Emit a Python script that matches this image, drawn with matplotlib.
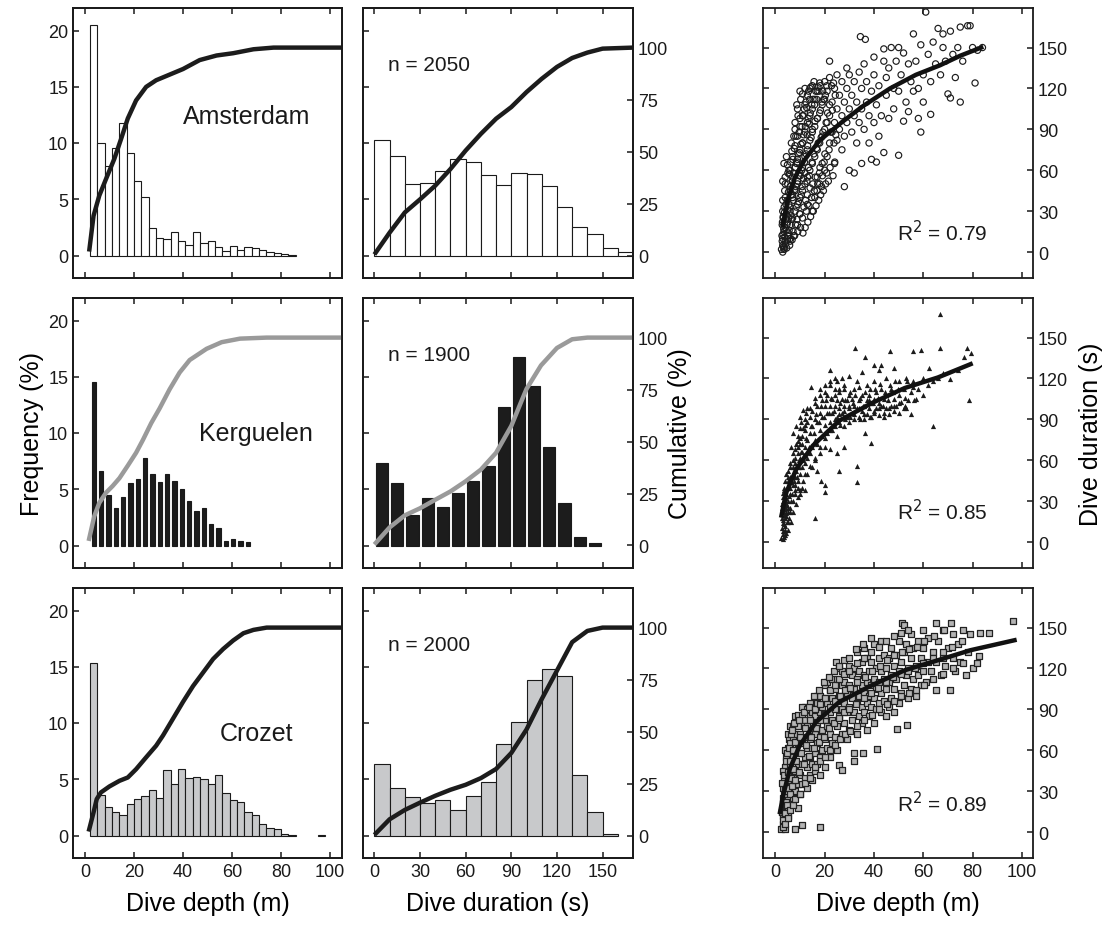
#!/usr/bin/env python3
"""Dive depth / duration distributions and depth-duration relations for three sites."""

import matplotlib.pyplot as plt
import numpy as np

plt.rcParams.update(
    {
        "font.family": ["Liberation Sans", "DejaVu Sans"],
        "font.size": 13,
        "axes.linewidth": 1.3,
        "axes.edgecolor": "#1a1a1a",
        "xtick.direction": "in",
        "ytick.direction": "in",
        "xtick.major.size": 4,
        "ytick.major.size": 4,
        "xtick.major.width": 1.1,
        "ytick.major.width": 1.1,
        "xtick.labelsize": 13,
        "ytick.labelsize": 13,
        "text.color": "#1a1a1a",
        "xtick.color": "#1a1a1a",
        "ytick.color": "#1a1a1a",
    }
)

SITES = ["Amsterdam", "Kerguelen", "Crozet"]
N_DIVES = [2050, 1900, 2000]
R2 = [0.79, 0.85, 0.89]

# depth histograms: 3 m bins starting at 2 m, frequency in %
DEPTH_BIN_START, DEPTH_BIN_WIDTH = 2, 3
depth_freq_ams = [20.45, 9.97, 8.0, 9.6, 11.8, 9.08, 6.64, 5.18, 2.47, 1.58, 1.46, 2.05, 1.25, 0.92,
                  2.05, 1.13, 1.25, 0.77, 0.39, 0.86, 0.5, 0.77, 0.68, 0.45, 0.27, 0.2, 0.15, 0.06]
depth_freq_ker = [14.5, 6.6, 4.47, 3.37, 4.3, 5.6, 5.95, 7.8, 6.4, 5.65, 6.4, 5.74, 5.0, 4.0,
                  3.1, 3.3, 1.9, 1.54, 0.36, 0.62, 0.38, 0.27]
depth_freq_cro = [15.3, 3.6, 2.5, 2.1, 1.85, 2.8, 3.24, 3.54, 4.04, 3.3, 5.8, 4.55, 5.9, 5.14,
                  5.2, 5.0, 4.55, 5.38, 3.74, 3.12, 3.0, 2.05, 1.84, 0.98, 0.65, 0.6, 0.1, 0.06,
                  0, 0, 0, 0.06]

# duration histograms: 10 s bins starting at 0 s, frequency in %
DUR_BIN_WIDTH = 10
dur_freq_ams = [10.3, 8.84, 6.34, 6.43, 7.47, 8.54, 8.27, 7.17, 6.28, 7.32, 7.23, 6.22, 4.29,
                2.53, 1.93, 0.63, 0.27]
dur_freq_ker = [7.3, 5.6, 2.7, 4.2, 3.4, 4.7, 5.77, 7.1, 12.3, 16.8, 14.2, 8.8, 3.8, 0.77, 0.18]
dur_freq_cro = [6.33, 4.25, 3.42, 2.9, 3.12, 2.3, 3.48, 4.8, 8.1, 10.1, 13.8, 14.8, 14.15,
                5.38, 2.05, 0.12]

# cumulative distributions (%)
cum_depth_x_ams = [1.6, 3.4, 5.75, 8.5, 11.9, 14.7, 17.4, 20.8, 24.9, 29, 34.5, 40, 46.8, 53.7,
                   60.5, 68.8, 77, 105]
cum_depth_ams = [1.9, 19.1, 28.8, 36.8, 46.5, 56.2, 65.9, 74.6, 81.1, 84.3, 87.0, 89.7, 94.0,
                 96.2, 97.3, 99.2, 100, 100]
cum_depth_x_ker = [1.4, 3.7, 5.75, 8.5, 11.2, 14, 17.4, 20.8, 23.6, 27, 30.4, 34.5, 38.6, 42.7,
                   49.6, 55.8, 63.3, 74.2, 105]
cum_depth_ker = [2.2, 14.1, 20.5, 25.4, 28.6, 32.4, 38.4, 44.6, 50.8, 58.9, 65.9, 75.1, 83.2,
                 89.2, 94.6, 97.8, 99.5, 100, 100]
cum_depth_x_cro = [1.4, 3.4, 4.7, 6.4, 9.9, 14, 17.4, 20.8, 24.9, 29, 31.8, 35.9, 40, 44.1, 48.2,
                   52.3, 56.4, 60.5, 64.7, 68.8, 74.2, 105]
cum_depth_cro = [1.9, 11.1, 17.5, 20.7, 23.6, 26.3, 27.9, 31.9, 37.6, 43.2, 48.1, 56.2, 64.3,
                 71.9, 78.4, 84.9, 89.7, 93.8, 97.3, 98.9, 100, 100]

cum_dur_x = [0, 10, 20, 30, 40, 50, 60, 70, 80, 90, 100, 110, 120, 130, 140, 150, 170]
cum_dur_ams = [0.5, 11, 20.7, 27, 33.6, 41.6, 50.5, 58.5, 65.8, 71.4, 78.6, 85, 90.7, 95, 97.6,
               99.5, 100]
cum_dur_x_ker = [0, 10, 20, 30, 40, 50, 60, 70, 80, 90, 96.3, 100, 109.5, 120, 130, 140, 170]
cum_dur_ker = [0.5, 8.7, 14.5, 17.9, 22, 26, 30.9, 36.5, 44.6, 57.5, 68.8, 75.3, 86.6, 95,
               99.2, 100, 100]
cum_dur_cro = [0.3, 7.8, 12.3, 15.8, 19.1, 22, 24.4, 27.6, 32, 39.7, 51, 65.6, 79.3, 93, 98.4,
               100, 100]

# depth (m) vs duration (s), individual dives
sc_depth_ams = [2.5, 3, 3, 3.5, 2.8, 3.2, 4, 4, 4.5, 5, 5, 5.5, 3, 4, 2.7, 3.5, 6, 6, 6, 5, 4, 3.5,
                3, 4.5, 6,
                7, 7, 7, 7, 8, 8, 8, 8, 9, 9, 9, 9, 10, 10, 10, 10, 11, 11, 11, 11, 12, 12, 12, 12,
                6.5, 8, 9, 10, 7.5, 6, 9, 10,
                13, 13, 13, 13, 14, 14, 14, 14, 15, 15, 15, 15, 16, 16, 16, 16, 17, 17, 17, 18, 18,
                18, 18, 19, 19, 20, 20, 20, 20, 13, 15, 17, 19,
                21, 21, 21, 22, 22, 22, 22, 23, 23, 24, 24, 24, 25, 25, 25, 26, 26, 27, 27, 27, 28,
                28, 28, 29, 29, 29, 30, 30, 30,
                31, 31, 32, 32, 32, 33, 33, 34, 34, 35, 35, 35, 36, 36, 37, 37, 38, 38, 39, 39, 40,
                40, 40, 41, 41, 42, 42, 43, 44, 44, 44, 45, 45,
                46, 46, 47, 48, 48, 49, 50, 50, 50, 51, 52, 52, 53, 54, 54, 55, 56, 56, 57, 58, 58,
                59, 59, 60, 60,
                61, 62, 63, 63, 64, 65, 66, 67, 68, 68, 69, 70, 71, 71, 72, 73, 74, 75, 75, 76, 78,
                79, 80, 81, 82, 84, 34.5, 36.5]
sc_dur_ams = [2, 5, 10, 15, 20, 25, 8, 18, 28, 12, 22, 35, 30, 40, 12, 3, 20, 30, 45, 50, 55, 65,
              52, 70, 60,
              25, 40, 55, 70, 30, 45, 62, 78, 35, 50, 68, 85, 40, 58, 75, 92, 45, 62, 80, 100, 50,
              70, 88, 108, 80, 95, 105, 118, 12, 8, 20, 28,
              55, 75, 95, 115, 60, 82, 100, 120, 65, 88, 105, 122, 40, 70, 92, 112, 75, 98, 118,
              50, 80, 102, 124, 85, 108, 60, 90, 112, 125, 35, 30, 55, 65,
              70, 95, 118, 100, 80, 128, 140, 88, 110, 65, 95, 120, 105, 82, 130, 90, 115, 75,
              100, 125, 48, 85, 110, 95, 120, 135, 60, 105, 130,
              88, 115, 58, 100, 125, 80, 110, 95, 132, 65, 105, 120, 90, 138, 110, 125, 100, 80,
              68, 118, 95, 130, 143, 66, 108, 85, 122, 100, 73, 140, 149, 115, 128,
              98, 135, 150, 120, 105, 140, 71, 118, 150, 130, 96, 146, 110, 103, 138, 125, 160,
              118, 140, 98, 120, 88, 152, 130, 110,
              176, 145, 101, 125, 154, 138, 164, 130, 150, 160, 140, 116, 113, 162, 145, 128, 150,
              165, 110, 140, 166, 166, 150, 124, 148, 150, 158, 156]

# shallow, densely packed dives (depth, duration)
core_ams = [
    (3.0, 0), (3.3, 4), (2.8, 8), (3.1, 13), (3.4, 17), (2.9, 22), (3.2, 26), (3.6, 33), (3.0, 38),
    (3.8, 45), (3.6, 2), (4.2, 6), (3.9, 11), (4.4, 16), (4.1, 24), (3.7, 29), (4.3, 35), (4.0, 50),
    (4.6, 3), (4.9, 9), (5.2, 14), (4.7, 20), (5.4, 25), (5.0, 31), (4.8, 38), (5.3, 44), (5.1, 58),
    (4.9, 64), (5.8, 5), (6.1, 10), (5.6, 16), (6.3, 27), (5.9, 33), (6.4, 42), (6.0, 48),
    (5.7, 57), (6.2, 66), (5.5, 60), (6.8, 9), (7.2, 15), (6.6, 24), (7.4, 38), (7.0, 42),
    (6.9, 52), (7.3, 58), (7.1, 68), (6.7, 74), (7.5, 85), (7.8, 12), (8.2, 20), (8.5, 33),
    (7.9, 46), (8.4, 48), (8.1, 62), (8.6, 65), (7.7, 76), (8.3, 85), (8.0, 90), (9.1, 15),
    (8.8, 24), (9.4, 37), (9.0, 52), (9.6, 56), (8.9, 66), (9.3, 72), (9.7, 88), (9.2, 100),
    (8.7, 108), (10.2, 18), (9.9, 28), (10.5, 42), (10.1, 56), (10.7, 60), (9.8, 73), (10.4, 79),
    (10.8, 92), (10.0, 98), (10.3, 112), (11.2, 14), (11.0, 25), (11.6, 33), (10.9, 48),
    (11.4, 54), (11.8, 66), (11.1, 80), (11.5, 86), (11.3, 100), (11.7, 105), (11.0, 116),
    (12.1, 18), (12.6, 30), (12.3, 38), (12.8, 52), (12.0, 58), (12.5, 72), (12.9, 86), (12.2, 92),
    (12.7, 106), (12.4, 110), (12.0, 120), (13.2, 22), (13.6, 34), (13.0, 42), (13.8, 56),
    (13.4, 62), (13.1, 78), (13.7, 94), (13.3, 98), (13.9, 112), (13.5, 118), (14.3, 26),
    (14.7, 40), (14.1, 47), (14.9, 66), (14.5, 84), (14.2, 102), (14.8, 108), (14.4, 121),
    (15.4, 30), (15.8, 45), (15.2, 50), (15.6, 72), (15.0, 90), (15.9, 108), (15.3, 112),
    (15.7, 125), (16.5, 34), (16.9, 45), (16.2, 55), (16.7, 76), (16.1, 96), (16.8, 112),
    (16.4, 118), (17.6, 38), (17.2, 50), (17.9, 58), (17.4, 80), (17.1, 98), (17.7, 118),
    (17.3, 121), (18.4, 42), (18.8, 48), (18.1, 62), (18.6, 84), (18.3, 104), (18.9, 110),
    (18.2, 122), (19.5, 45), (19.1, 56), (19.8, 66), (19.3, 88), (19.6, 112), (19.2, 118),
    (20.4, 50), (20.8, 58), (20.1, 72), (20.6, 95), (20.3, 115), (20.9, 122), (21.5, 52),
    (22.2, 62), (21.8, 75), (22.5, 88), (21.2, 102), (22.0, 108), (22.8, 122), (23.4, 56),
    (24.1, 66), (23.8, 80), (24.5, 86), (23.1, 104), (24.3, 115), (23.6, 124),
]

sc_depth_ker = [2.5, 3, 3, 3.5, 2.8, 3.2, 4, 4, 4, 4, 4.5, 4.5, 3, 5, 5, 5, 5, 3.5, 4, 2.7, 5.5,
                6, 6, 6, 6, 5, 4.5,
                7, 7, 7, 7, 8, 8, 8, 8, 7.2, 9, 9, 9, 9.2, 10, 10, 10, 10, 11, 11, 11, 11.2, 12, 12,
                12, 12, 8, 9, 10, 11, 12, 6.5, 8.5, 10,
                13, 13, 13, 13, 14, 14, 14, 14.5, 15, 15, 15, 15.9, 16, 16, 16, 16, 17, 17, 17, 18,
                18, 18, 18, 18.5, 19, 19, 19, 20, 20, 20, 20, 20.3, 20.3, 13, 15, 17,
                21, 21, 21, 22, 22, 22, 22, 23, 23, 23, 24, 24, 24, 25, 25, 25, 25, 26, 26, 26, 26,
                27, 27, 27, 28, 28, 28, 29, 29, 30, 30, 30, 30, 22, 25, 28,
                31, 31, 32, 32, 32, 32.5, 33, 33, 33, 33, 34, 34, 35, 35, 35, 36, 36, 36.5, 36.5,
                37, 37, 37, 38, 38, 39, 39, 39, 40, 40, 40, 41, 41, 42, 42, 42, 43, 43, 44, 44, 45,
                45, 45, 46.5, 40, 43,
                46, 47, 47, 48, 48, 48, 49, 50, 50, 50, 51, 52, 52.5, 52, 53, 54, 55, 55, 55.9, 56,
                57, 58, 59, 60, 60,
                62, 62.5, 63.9, 64, 65.9, 66.8, 66.8, 68, 71, 74, 76.5, 77.9, 78.5, 79.2]
sc_dur_ker = [3, 8, 14, 20, 25, 30, 5, 12, 18, 24, 28, 35, 36, 15, 22, 30, 40, 40, 45, 18, 45,
              25, 35, 48, 55, 52, 50,
              30, 42, 50, 60, 38, 48, 58, 68, 80, 45, 55, 65, 74, 50, 62, 72, 84, 55, 66, 78, 97,
              58, 70, 82, 90, 35, 40, 35, 40, 38, 70, 85, 92,
              62, 75, 88, 98, 65, 80, 92, 114, 70, 85, 96, 18, 60, 75, 90, 102, 72, 88, 100, 65,
              82, 95, 108, 45, 78, 92, 104, 70, 86, 100, 110, 37, 42, 50, 55, 52,
              80, 95, 108, 88, 100, 126, 115, 82, 95, 105, 90, 100, 112, 78, 92, 104, 118, 52, 88,
              98, 110, 95, 105, 120, 85, 100, 112, 92, 104, 88, 98, 108, 122, 68, 65, 70,
              95, 105, 90, 100, 112, 142, 44, 56, 98, 118, 92, 104, 96, 108, 125, 90, 100, 80, 136,
              94, 104, 115, 98, 108, 73, 92, 102, 95, 105, 118, 98, 110, 93, 102, 126, 100, 112,
              95, 105, 98, 108, 120, 140, 130, 130,
              94, 100, 112, 96, 105, 128, 100, 95, 108, 118, 103, 98, 100, 112, 120, 104, 94, 110,
              140, 118, 105, 112, 141, 108, 120,
              115, 128, 85, 118, 120, 142, 167, 124, 119.5, 126, 136, 142, 104, 139]

core_ker = [
    (3.0, 2), (3.3, 6), (2.8, 10), (3.1, 16), (3.4, 22), (2.9, 28), (3.2, 33), (3.6, 4), (3.9, 9),
    (3.7, 13), (4.2, 19), (3.8, 26), (4.1, 31), (3.5, 38), (4.3, 7), (4.6, 15), (4.4, 21),
    (4.8, 27), (4.5, 32), (4.7, 40), (5.2, 9), (5.4, 18), (5.0, 25), (5.6, 34), (5.3, 45),
    (5.1, 48), (6.2, 15), (5.8, 22), (6.4, 30), (6.0, 40), (6.3, 44), (5.9, 58), (7.1, 22),
    (6.8, 35), (7.4, 45), (7.0, 55), (7.3, 65), (8.2, 28), (7.8, 42), (8.4, 52), (8.0, 62),
    (8.3, 72), (9.1, 33), (8.8, 48), (9.4, 60), (9.0, 70), (9.3, 78), (10.2, 38), (9.8, 55),
    (10.4, 66), (10.0, 76), (10.3, 88), (11.1, 45), (11.4, 60), (10.8, 72), (11.2, 84), (12.2, 50),
    (11.8, 64), (12.4, 76), (12.0, 86), (12.3, 95), (14.1, 56), (13.7, 70), (14.4, 85), (14.0, 98),
    (16.2, 62), (15.8, 80), (16.4, 94), (16.0, 106), (18.1, 70), (17.7, 88), (18.4, 100),
    (18.0, 112), (20.2, 76), (19.8, 92), (20.4, 104), (20.0, 115), (22.1, 82), (21.7, 95),
    (22.4, 106), (22.0, 118), (24.2, 85), (23.8, 96), (24.4, 108), (24.0, 120), (26.1, 86),
    (25.7, 94), (26.4, 102), (26.0, 112), (28.2, 90), (27.8, 96), (28.4, 104), (28.0, 115),
    (30.2, 92), (29.8, 100), (30.4, 110), (32.1, 94), (31.7, 102), (32.4, 108), (34.2, 90),
    (33.8, 98), (34.4, 106), (34.0, 114), (36.1, 94), (35.7, 100), (36.4, 110), (38.2, 92),
    (37.8, 104), (38.4, 112), (40.1, 96), (39.7, 102), (40.4, 112), (42.2, 98), (41.8, 106),
    (42.4, 116), (44.1, 92), (43.7, 100), (44.4, 110), (46.2, 98), (45.8, 104), (46.4, 115),
    (48.1, 100), (47.7, 110), (48.4, 118), (50.2, 102), (49.8, 112), (53.1, 98), (52.7, 106),
    (53.4, 118), (56.2, 104), (55.8, 114),
]

sc_depth_cro = [2.5, 3, 3, 3, 3, 3, 3.5, 3.5, 3.5, 3.5, 4, 4, 4, 4, 4, 4.5, 4.5, 5, 5, 5, 5, 5.5,
                5.5, 5.5, 6, 6, 6, 6, 2.8, 3.2, 4, 5,
                7, 7, 7, 7, 7, 7.9, 8, 8, 8, 8, 8, 9, 9, 9, 9, 9.1, 10, 10, 10, 10, 10.7, 11, 11, 11,
                11, 11, 12, 12, 12, 12, 12, 9, 11,
                13, 13, 13, 13, 13, 14, 14, 14, 14, 14, 15, 15, 15, 15, 15, 16, 16, 16, 16, 16.9, 17,
                17, 17, 17, 18, 18, 18, 18, 18, 18, 19, 19, 19, 19.9, 20, 20, 20, 20, 20,
                21, 21, 21, 21, 22, 22, 22, 22, 23, 23, 23, 23, 24, 24, 24, 24.5, 25, 25, 25, 25,
                25.9, 26, 26, 26, 27.2, 27, 27, 27, 27, 28, 28, 28, 29, 29, 29, 29, 30, 30, 30, 30,
                31, 31, 31, 31.9, 31.9, 32, 32, 32, 33, 33, 33, 33, 34, 34, 34, 35, 35.6, 35, 35, 35,
                36, 36, 36, 36, 37, 37, 37, 37, 38, 38, 38, 39, 39, 39, 40, 40, 40, 40, 41.2, 41, 41,
                41, 42, 42, 42, 43, 43, 43, 43, 44, 44, 44, 45, 45, 45,
                46, 46, 46, 47, 47, 47, 48, 48, 48, 49.2, 49, 49, 50, 50, 50, 51, 51, 51.2, 52, 52,
                52, 53.2, 53, 53, 54, 54, 55, 55, 55, 56, 56, 57, 57, 58, 58, 59, 59, 60, 60, 60,
                61, 62, 62, 63, 64, 65, 65, 65.2, 66, 67, 68, 68, 69, 70, 70.8, 71.2, 72, 72, 73, 74,
                75, 76, 77.2, 78, 79, 80, 81.6, 82.4, 83, 86.5, 96.5]
sc_dur_cro = [2, 6, 12, 18, 25, 32, 8, 15, 22, 40, 2.4, 10, 28, 35, 48, 18, 55, 12, 25, 38, 62,
              30, 45, 68, 20, 50, 78, 65, 15, 45, 60, 72,
              25, 40, 55, 70, 78, 2.4, 30, 45, 60, 72, 85, 18, 35, 50, 65, 86, 28, 42, 58, 72, 86,
              4.9, 35, 50, 65, 80, 40, 55, 70, 82, 92, 78, 92,
              32, 48, 62, 78, 90, 42, 55, 68, 85, 95, 38, 50, 62, 75, 88, 45, 58, 72, 85, 99.8, 50,
              65, 80, 95, 3.7, 42, 55, 70, 88, 100, 60, 75, 92, 86.9, 48, 68, 82, 98, 108,
              62, 78, 95, 110, 55, 72, 88, 104, 65, 82, 98, 112, 70, 90, 105, 124.8, 60, 78, 96,
              112, 120, 49, 85, 100, 45.3, 72, 90, 108, 118, 80, 95, 110, 68, 88, 102, 116, 75, 92,
              108, 122,
              82, 98, 115, 51.9, 57.7, 88, 105, 120, 72, 95, 112, 132, 85, 100, 118, 80, 57.7, 92,
              108, 125, 88, 102, 115, 135, 75, 95, 110, 128, 85, 100, 118, 92, 108, 125, 80, 98,
              112, 138, 61, 90, 105, 120, 95, 110, 128, 88, 102, 118, 140, 96, 112, 130, 85, 105,
              120,
              92, 110, 128, 98, 115, 135, 88, 105, 122, 75.8, 112, 130, 95, 118, 140, 102, 125, 153,
              152, 108, 132, 78.3, 115, 138, 98, 120, 105, 128, 145, 112, 135, 100, 122, 115, 140,
              108, 128, 118, 135, 148,
              110, 125, 142, 118, 132, 104, 125, 153, 140, 115, 128, 148, 122, 135, 104, 153, 128,
              145, 118, 138, 125, 148, 115.5, 132, 145, 120, 124, 129, 146, 146, 155]

core_cro = [
    (3.0, 4), (3.3, 9), (2.8, 15), (3.1, 21), (3.4, 28), (2.9, 36), (4.1, 6), (3.8, 14), (4.3, 22),
    (4.0, 30), (3.7, 42), (4.2, 52), (5.1, 10), (4.8, 20), (5.3, 32), (5.0, 44), (4.7, 58),
    (6.1, 16), (5.8, 28), (6.3, 40), (6.0, 52), (5.7, 62), (6.2, 72), (7.1, 20), (6.8, 34),
    (7.3, 46), (7.0, 60), (6.7, 75), (8.1, 24), (7.8, 38), (8.3, 52), (8.0, 66), (7.7, 80),
    (10.1, 28), (9.8, 44), (10.3, 58), (10.0, 70), (9.7, 82), (12.1, 36), (11.8, 50), (12.3, 64),
    (12.0, 76), (11.7, 88), (14.1, 40), (13.8, 56), (14.3, 70), (14.0, 82), (13.7, 92), (16.1, 48),
    (15.8, 62), (16.3, 76), (16.0, 90), (15.7, 100), (18.1, 52), (17.8, 66), (18.3, 82), (18.0, 94),
    (17.7, 104), (20.1, 55), (19.8, 70), (20.3, 86), (20.0, 98), (19.7, 110), (22.1, 60),
    (21.8, 76), (22.3, 92), (22.0, 104), (21.7, 114), (24.1, 64), (23.8, 80), (24.3, 96),
    (24.0, 108), (23.7, 118), (26.1, 68), (25.8, 84), (26.3, 100), (26.0, 112), (25.7, 122),
    (28.1, 72), (27.8, 88), (28.3, 104), (28.0, 116), (27.7, 126), (30.1, 74), (29.8, 90),
    (30.3, 106), (30.0, 118), (29.7, 128), (33.1, 78), (32.8, 94), (33.3, 110), (33.0, 124),
    (32.7, 134), (36.1, 82), (35.8, 98), (36.3, 114), (36.0, 128), (35.7, 138), (39.1, 86),
    (38.8, 102), (39.3, 118), (39.0, 132), (38.7, 142), (42.1, 90), (41.8, 106), (42.3, 122),
    (42.0, 136), (45.1, 94), (44.8, 110), (45.3, 126), (45.0, 140), (48.1, 96), (47.8, 114),
    (48.3, 130), (48.0, 144), (51.1, 100), (50.8, 116), (51.3, 132), (51.0, 146), (54.1, 102),
    (53.8, 118), (54.3, 134), (54.0, 148), (57.1, 104), (56.8, 120), (57.3, 136), (60.1, 108),
    (59.8, 124), (60.3, 140), (64.1, 112), (63.8, 128), (64.3, 144), (68.1, 116), (67.8, 132),
    (68.3, 148), (72.1, 120), (71.8, 136), (76.1, 124), (75.8, 140),
]

# fitted depth-duration curves
fit_depth_ams = [3, 5, 8, 12, 18, 27.5, 35.5, 46.5, 57, 66.8, 75, 83.5]
fit_dur_ams = [20, 38, 55, 68, 82, 96, 107, 120, 130, 137, 144, 150]
fit_depth_ker = [2.5, 4.5, 8.5, 15.2, 25.9, 39.2, 52.5, 65.9, 79.2]
fit_dur_ker = [19.5, 36.6, 53.6, 70.7, 89, 102, 113, 120.7, 130.5]
fit_depth_cro = [1.9, 3.2, 5.9, 9.9, 16.5, 25.9, 39.2, 52.5, 65.9, 79.2, 97]
fit_dur_cro = [14.7, 27, 46.5, 63.6, 80.7, 95.4, 107.7, 118.7, 126, 133.4, 140.7]

depth_freqs = [depth_freq_ams, depth_freq_ker, depth_freq_cro]
dur_freqs = [dur_freq_ams, dur_freq_ker, dur_freq_cro]
cum_depths = [(cum_depth_x_ams, cum_depth_ams), (cum_depth_x_ker, cum_depth_ker),
              (cum_depth_x_cro, cum_depth_cro)]
cum_durs = [(cum_dur_x, cum_dur_ams), (cum_dur_x_ker, cum_dur_ker), (cum_dur_x, cum_dur_cro)]
scatters = [(sc_depth_ams, sc_dur_ams, core_ams), (sc_depth_ker, sc_dur_ker, core_ker),
            (sc_depth_cro, sc_dur_cro, core_cro)]
fits = [(fit_depth_ams, fit_dur_ams), (fit_depth_ker, fit_dur_ker), (fit_depth_cro, fit_dur_cro)]

# per-site styling
BAR_FACE = ["white", "#1c1c1c", "#c8c9cb"]
BAR_FRAC = [1.0, 0.62, 1.0]       # bar width relative to bin width (depth)
DUR_FRAC = [1.0, 0.8, 1.0]
CUM_COLOR = ["#1c1c1c", "#9a9a9a", "#1c1c1c"]
SITE_POS = [(40, 12.4), (46.5, 10.0), (55, 9.1)]
R2_POS = [15, 23, 21.5]

FREQ_LIM = (-2, 22)
CUM_FULL = 18.48                  # frequency-axis level that corresponds to 100 %
CUM_LIM = (FREQ_LIM[0] * 100 / CUM_FULL, FREQ_LIM[1] * 100 / CUM_FULL)

W, H = 1111, 928
fig = plt.figure(figsize=(W / 100, H / 100), dpi=100)

ROWS = [(9, 279), (299, 569), (589, 859)]
COLS = [(73, 342), (363, 633), (763, 1033)]


def add_ax(col, row):
    x0, x1 = COLS[col]
    y0, y1 = ROWS[row]
    return fig.add_axes([x0 / W, 1 - y1 / H, (x1 - x0) / W, (y1 - y0) / H])


def bars(ax, start, width, freq, frac, face):
    freq = np.asarray(freq, dtype=float)
    centers = start + width * (np.arange(len(freq)) + 0.5)
    keep = freq > 0
    ax.bar(centers[keep], freq[keep], width=width * frac, color=face,
           edgecolor="#1a1a1a", linewidth=0.8, zorder=2)


for i, site in enumerate(SITES):
    last = i == 2

    # depth histogram + cumulative
    ax = add_ax(0, i)
    bars(ax, DEPTH_BIN_START, DEPTH_BIN_WIDTH, depth_freqs[i], BAR_FRAC[i], BAR_FACE[i])
    ax.set_xlim(-5, 105)
    ax.set_ylim(*FREQ_LIM)
    ax.set_xticks(range(0, 101, 20))
    ax.set_yticks(range(0, 21, 5))
    ax.tick_params(top=True, right=True, labelbottom=last)
    ax.text(*SITE_POS[i], site, fontsize=18, ha="left", va="center")
    if i == 1:
        ax.set_ylabel("Frequency (%)", fontsize=18, labelpad=3)
    if last:
        ax.set_xlabel("Dive depth (m)", fontsize=18, labelpad=8)
    axc = ax.twinx()
    axc.plot(*cum_depths[i], color=CUM_COLOR[i], lw=3.2, solid_capstyle="butt")
    axc.set_ylim(*CUM_LIM)
    axc.set_yticks([])

    # duration histogram + cumulative
    ax = add_ax(1, i)
    bars(ax, 0, DUR_BIN_WIDTH, dur_freqs[i], DUR_FRAC[i], BAR_FACE[i])
    ax.set_xlim(-7.5, 170)
    ax.set_ylim(*FREQ_LIM)
    ax.set_xticks(range(0, 151, 30))
    ax.set_yticks(range(0, 21, 5))
    ax.tick_params(top=True, right=False, labelleft=False, labelbottom=last)
    ax.text(9, 17.0, f"n = {N_DIVES[i]}", fontsize=15, ha="left", va="center")
    if last:
        ax.set_xlabel("Dive duration (s)", fontsize=18, labelpad=8)
    axc = ax.twinx()
    axc.plot(*cum_durs[i], color=CUM_COLOR[i], lw=3.2, solid_capstyle="butt")
    axc.set_ylim(*CUM_LIM)
    axc.set_yticks(range(0, 101, 25))
    axc.tick_params(direction="in", length=4, width=1.1, labelsize=13)
    if i == 1:
        axc.set_ylabel("Cumulative (%)", fontsize=18, labelpad=0)

    # depth vs duration
    ax = add_ax(2, i)
    xs, ys, core = scatters[i]
    xs = list(xs) + [p[0] for p in core]
    ys = list(ys) + [p[1] for p in core]
    if i == 0:
        ax.scatter(xs, ys, s=20, facecolors="none", edgecolors="#1c1c1c", linewidths=0.85, zorder=2)
    elif i == 1:
        ax.scatter(xs, ys, s=14, marker="^", color="#1c1c1c", linewidths=0, zorder=2)
    else:
        ax.scatter(xs, ys, s=18, marker="s", facecolors="#b4b4b4", edgecolors="#222222",
                   linewidths=0.9, zorder=2)
    ax.plot(*fits[i], color="#111111", lw=3.2, zorder=3)
    ax.set_xlim(-5, 104.5)
    ax.set_ylim(-19, 179)
    ax.set_xticks(range(0, 101, 20))
    ax.set_yticks(range(0, 151, 30))
    ax.tick_params(top=True, right=True, labelleft=False, labelright=True, labelbottom=last)
    ax.text(49.2, R2_POS[i], f"R$^2$ = {R2[i]:.2f}", fontsize=15, ha="left", va="center")
    if i == 1:
        ax.yaxis.set_label_position("right")
        ax.set_ylabel("Dive duration (s)", fontsize=18, labelpad=8)
    if last:
        ax.set_xlabel("Dive depth (m)", fontsize=18, labelpad=8)

fig.savefig("out.png", dpi=100, facecolor="white")
